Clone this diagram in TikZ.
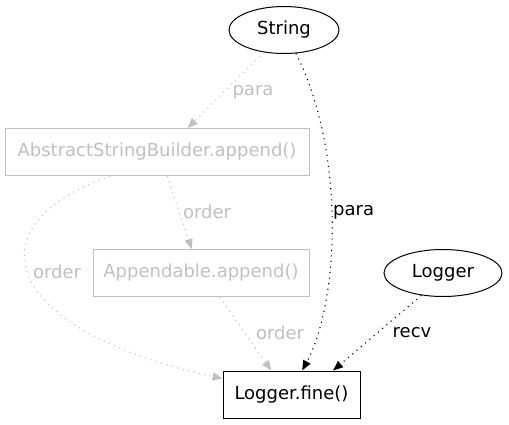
\documentclass[tikz,border=0pt]{standalone}
\usepackage{fontspec}
\setmainfont{DejaVu Sans}
\usetikzlibrary{shapes.geometric,arrows.meta}
\definecolor{faded}{HTML}{C0C0C0}

\begin{document}
\begin{tikzpicture}[x=1pt, y=-1pt,
        every node/.style={font=\fontsize{18}{20}\selectfont, inner sep=0pt},
        meth/.style={draw, rectangle, line width=1pt, minimum height=47pt, inner xsep=6pt},
        obj/.style={draw, ellipse, line width=1pt, minimum width=110pt, minimum height=47pt},
        dep/.style={line width=1.1pt, dash pattern=on 1.1pt off 4.5pt, -{Triangle[length=10pt,width=8pt]}},
        gone/.style={faded, text=faded}]
        \useasboundingbox (0,0) rectangle (509,424);
        \node[obj] (str) at (284,30) {String};
        \node[obj, minimum width=118pt] (log) at (443,273) {Logger};
        \node[meth, gone, minimum width=304pt] (asb) at (157,152) {AbstractStringBuilder.append()};
        \node[meth, gone, minimum width=216pt] (app) at (201,273) {Appendable.append()};
        \node[meth, minimum width=137pt] (fine) at (291.5,394.5) {Logger.fine()};
        % edge labels
        \node[gone] (l1) at (253,92) {para};
        \node[gone] (l2) at (207,212) {order};
        \node[anchor=west] (l3) at (333,212) {para};
        \node[gone] (l4) at (57,272) {order};
        \node[gone] (l5) at (280,333) {order};
        \node (l6) at (412,333) {recv};
        \draw[dep, faded] (str.-132) -- (asb.38);
        \draw[dep, faded] (asb.-67) -- (app.111);
        \draw[dep, faded] (asb.-153) .. controls (-30,225) and (0,330) .. (fine.167);
        \draw[dep, faded] (app.-52) -- (fine.130);
        \draw[dep] (str.-63) .. controls (345,150) and (340,300) .. (fine.66);
        \draw[dep] (log.-134) -- (fine.30);
    \end{tikzpicture}
\end{document}
